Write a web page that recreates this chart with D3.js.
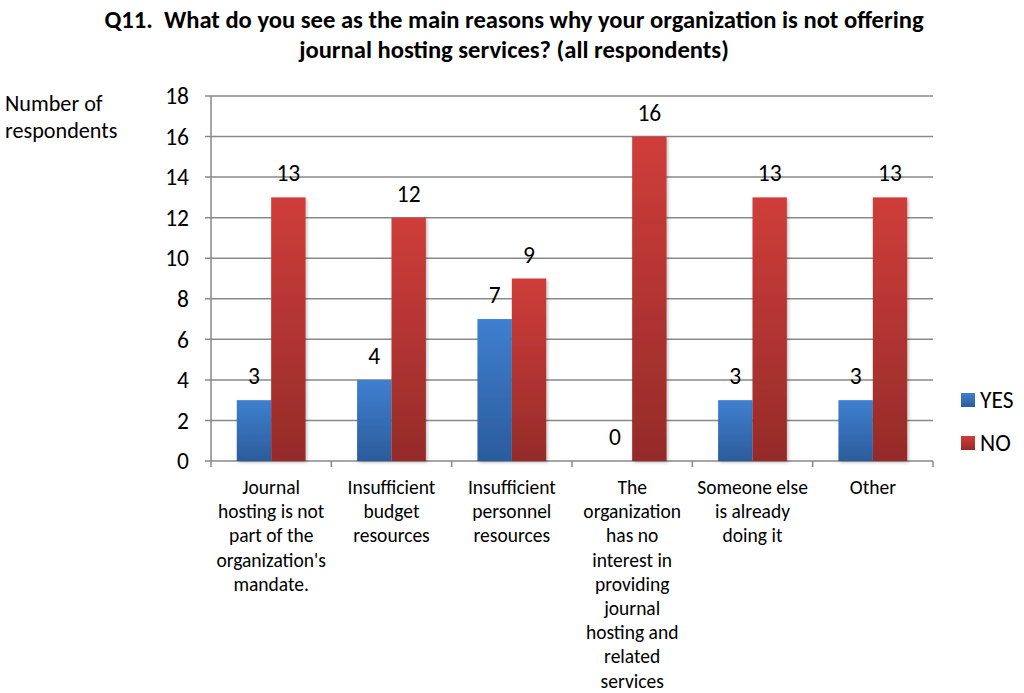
<!DOCTYPE html>
<html><head><meta charset="utf-8">
<script src="https://cdn.jsdelivr.net/npm/d3@7"></script>
<style>
body{margin:0;background:#fff;}
text{font-family:Carlito,Calibri,Lato,"Open Sans",sans-serif;fill:#000;white-space:pre;}
</style></head>
<body><svg id="c" width="1024" height="693"></svg>
<script>
const categories = [
  "Journal\nhosting is not\npart of the\norganization's\nmandate.",
  "Insufficient\nbudget\nresources",
  "Insufficient\npersonnel\nresources",
  "The\norganization\nhas no\ninterest in\nproviding\njournal\nhosting and\nrelated\nservices",
  "Someone else\nis already\ndoing it",
  "Other"
];
const seriesNames = ["YES", "NO"];
const yesValues = [3, 4, 7, 0, 3, 3];
const noValues = [13, 12, 9, 16, 13, 13];
const yTicks = [0, 2, 4, 6, 8, 10, 12, 14, 16, 18];
const titleLines = ["Q11.  What do you see as the main reasons why your organization is not offering", "journal hosting services? (all respondents)"];
const yTitleLines = ["Number of", "respondents"];

const svg = d3.select("#c");
const L = 211, R = 933, T = 96, B = 461;
const x = d3.scaleBand().domain(d3.range(categories.length)).range([L, R]).paddingInner(0).paddingOuter(0);
const bw = x.bandwidth() / 3.5;
const xs = d3.scaleBand().domain(seriesNames).range([0.75 * bw, 2.75 * bw]);
const y = d3.scaleLinear().domain([0, 18]).range([B, T]);

const defs = svg.append("defs");
function grad(id, c1, c2) {
  const g = defs.append("linearGradient").attr("id", id).attr("x1", 0).attr("y1", 0).attr("x2", 0).attr("y2", 1);
  g.append("stop").attr("offset", "0%").attr("stop-color", c1);
  g.append("stop").attr("offset", "100%").attr("stop-color", c2);
}
grad("gYES", "#3f7fcf", "#2b5c9c");
grad("gNO", "#cf3d3a", "#952b29");
const f = defs.append("filter").attr("id", "sh").attr("x", "-20%").attr("y", "-10%").attr("width", "140%").attr("height", "120%");
f.append("feDropShadow").attr("dx", 1.5).attr("dy", 1.5).attr("stdDeviation", 1.5).attr("flood-color", "#000").attr("flood-opacity", 0.25);

// Gridlines
svg.append("g").selectAll("line").data(yTicks).join("line")
  .attr("x1", L - 6).attr("x2", R).attr("y1", d => y(d)).attr("y2", d => y(d))
  .attr("stroke", "#898989").attr("stroke-width", 1.5);
// y axis line
svg.append("line").attr("x1", L).attr("x2", L).attr("y1", T).attr("y2", B + 6).attr("stroke", "#898989").attr("stroke-width", 1.5);
// x ticks
const bounds = d3.range(categories.length + 1).map(i => i < categories.length ? x(i) : R);
svg.append("g").selectAll("line").data(bounds.slice(1)).join("line")
  .attr("x1", d => d).attr("x2", d => d).attr("y1", B).attr("y2", B + 6)
  .attr("stroke", "#898989").attr("stroke-width", 1.5);

// y tick labels
svg.append("g").selectAll("text").data(yTicks).join("text")
  .attr("x", 189).attr("y", d => y(d)).attr("dy", "0.35em").attr("text-anchor", "end")
  .style("font-size", "23.5px").text(d => d);

// bars
const data = [];
categories.forEach((c, i) => {
  data.push({i, s: "YES", v: yesValues[i]});
  data.push({i, s: "NO", v: noValues[i]});
});
svg.append("g").selectAll("rect").data(data.filter(d => d.v > 0)).join("rect")
  .attr("x", d => x(d.i) + xs(d.s)).attr("width", xs.bandwidth())
  .attr("y", d => y(d.v)).attr("height", d => y(0) - y(d.v))
  .attr("fill", d => `url(#g${d.s})`).attr("filter", "url(#sh)");

// value labels
svg.append("g").selectAll("text").data(data).join("text")
  .attr("x", d => x(d.i) + xs(d.s) + xs.bandwidth() / 2)
  .attr("y", d => y(d.v) - 16).attr("text-anchor", "middle")
  .style("font-size", "23.5px").text(d => d.v);

// category labels
const cl = svg.append("g").selectAll("text").data(categories).join("text")
  .attr("text-anchor", "middle").style("font-size", "19.5px")
  .attr("transform", (d, i) => `translate(${x(i) + x.bandwidth() / 2},${B + 33})`);
cl.each(function(d) {
  d3.select(this).selectAll("tspan").data(d.split("\n")).join("tspan")
    .attr("x", 0).attr("y", (t, k) => k * 24.2).text(t => t);
});

// title
svg.append("g").selectAll("text").data(titleLines).join("text")
  .attr("x", 514).attr("y", (d, i) => 28 + i * 30).attr("text-anchor", "middle")
  .style("font-size", "24.6px").style("font-weight", "bold").text(d => d);

// y title
svg.append("g").selectAll("text").data(yTitleLines).join("text")
  .attr("x", 5).attr("y", (d, i) => 111 + i * 27)
  .style("font-size", "22.2px").text(d => d);

// legend
const lg = svg.append("g").selectAll("g").data(seriesNames).join("g")
  .attr("transform", (d, i) => `translate(961,${400 + i * 43})`);
lg.append("rect").attr("x", 0).attr("y", -7).attr("width", 14).attr("height", 14)
  .attr("fill", d => `url(#g${d})`);
lg.append("text").attr("x", 19).attr("y", 0).attr("dy", "0.35em")
  .style("font-size", "23.5px").text(d => d);
</script></body></html>
